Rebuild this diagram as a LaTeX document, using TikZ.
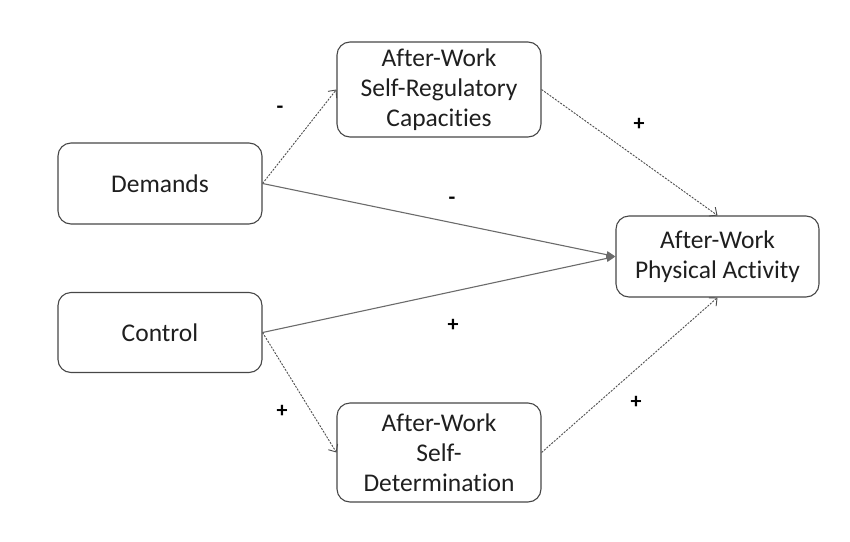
\documentclass[tikz,border=0pt]{standalone}
\usepackage{fontspec}
\setmainfont{Carlito}[Ligatures=NoCommon]
\usetikzlibrary{arrows.meta}
\begin{document}
\begin{tikzpicture}[x=1pt,y=-1pt,
  box/.style={draw=black!72, line width=1.1pt, rounded corners=13pt, align=center,
    text=black!88, inner sep=2pt, font=\fontsize{25.5}{30}\selectfont},
  dlink/.style={draw=black!70, line width=0.9pt, dash pattern=on 2pt off 1.3pt,
    -{Straight Barb[length=6pt,width=11pt,line width=0.9pt]}},
  slink/.style={draw=black!58, line width=1.1pt, -{Triangle[length=9pt,width=7pt]}},
  sign/.style={font=\fontsize{22}{24}\selectfont\bfseries, text=black, inner sep=0pt}]
\useasboundingbox (0,0) rectangle (850,541);
\node[box, minimum width=204pt, minimum height=95pt] (sr) at (439,89.5) {After-Work\\Self-Regulatory\\Capacities};
\node[box, minimum width=204pt, minimum height=81pt] (dem) at (160,183.5) {Demands};
\node[box, minimum width=204pt, minimum height=80pt] (con) at (160,332.5) {Control};
\node[box, minimum width=204pt, minimum height=99pt] (sd) at (439,452.5) {After-Work\\Self-\\Determination};
\node[box, minimum width=203pt, minimum height=81pt] (pa) at (717.5,256.5) {After-Work\\Physical Activity};
\draw[dlink] (dem.east) -- (sr.west);
\draw[dlink] (sr.east) -- (pa.north);
\draw[slink] (dem.east) -- (pa.west);
\draw[slink] (con.east) -- (pa.west);
\draw[dlink] (con.east) -- (sd.west);
\draw[dlink] (sd.east) -- (pa.south);
\node[sign] (s1) at (280,110) {-};
\node[sign] (s2) at (639,124) {+};
\node[sign] (s3) at (452,201) {-};
\node[sign] (s4) at (453,325) {+};
\node[sign] (s5) at (282,411) {+};
\node[sign] (s6) at (636,402) {+};
\end{tikzpicture}
\end{document}
